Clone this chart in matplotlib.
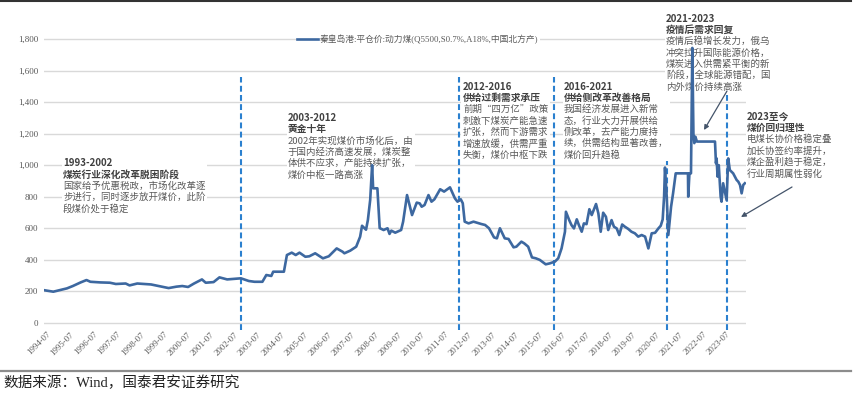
import matplotlib
matplotlib.use('Agg')
import matplotlib.pyplot as plt
from matplotlib.lines import Line2D
from matplotlib.patches import Rectangle
import pandas as pd

plt.rcParams['font.family'] = ['Noto Sans CJK SC', 'DejaVu Sans']

# Data (Qinhuangdao Q5500 thermal coal, RMB/t)
dates = ['1994-06-01', '1994-10-15', '1995-01-15', '1995-05-15', '1995-08-15', '1995-12-15',
         '1996-03-15', '1996-05-15', '1996-10-15', '1997-03-15', '1997-06-15', '1997-11-15',
         '1998-01-15', '1998-05-15', '1998-12-15', '1999-04-15', '1999-09-15', '2000-01-15',
         '2000-04-15', '2000-07-15', '2000-10-15', '2001-02-15', '2001-04-15', '2001-08-15',
         '2001-11-15', '2002-03-15', '2002-10-15', '2003-02-15', '2003-05-15', '2003-09-15',
         '2003-11-15', '2004-02-01', '2004-03-01', '2004-08-15', '2004-10-01', '2004-12-15',
         '2005-02-15', '2005-04-15', '2005-07-15', '2005-09-15', '2005-12-15', '2006-04-15',
         '2006-07-15', '2006-11-15', '2007-02-15', '2007-03-15', '2007-06-15', '2007-09-15',
         '2007-11-15', '2007-12-15', '2008-02-15', '2008-03-15', '2008-04-20', '2008-05-20',
         '2008-06-05', '2008-08-10', '2008-09-15', '2008-11-15', '2009-01-15', '2009-02-15',
         '2009-03-15', '2009-05-15', '2009-08-15', '2009-09-15', '2009-11-15', '2010-02-01',
         '2010-04-15', '2010-06-01', '2010-07-01', '2010-08-15', '2010-10-15', '2010-12-01',
         '2011-01-15', '2011-04-15', '2011-06-15', '2011-09-15', '2011-12-01', '2012-01-10',
         '2012-03-01', '2012-04-01', '2012-05-01', '2012-07-01', '2012-09-15', '2013-01-15',
         '2013-03-15', '2013-05-15', '2013-08-01', '2013-09-15', '2013-11-01', '2014-01-15',
         '2014-03-15', '2014-06-01', '2014-07-15', '2014-10-01', '2014-11-15', '2015-01-15',
         '2015-03-15', '2015-05-15', '2015-07-15', '2015-10-15', '2015-12-18', '2016-03-06',
         '2016-04-27', '2016-06-18', '2016-08-10', '2016-08-25', '2016-10-15', '2016-11-20',
         '2016-12-28', '2017-02-10', '2017-03-15', '2017-04-28', '2017-06-01', '2017-07-12',
         '2017-08-25', '2017-10-01', '2017-12-07', '2018-01-12', '2018-02-18', '2018-03-28',
         '2018-05-10', '2018-06-15', '2018-08-06', '2018-09-12', '2018-10-25', '2018-12-04',
         '2019-01-18', '2019-03-01', '2019-04-22', '2019-06-12', '2019-08-04', '2019-09-25',
         '2019-11-18', '2020-01-10', '2020-03-01', '2020-04-22', '2020-06-13', '2020-08-04',
         '2020-09-10', '2020-10-10', '2020-11-01', '2020-11-15', '2020-12-12', '2021-01-06',
         '2021-02-18', '2021-03-21', '2021-05-01', '2021-11-08', '2021-11-12', '2021-12-01',
         '2021-12-25', '2022-01-15', '2022-02-01', '2022-02-15', '2022-03-03', '2022-03-27',
         '2023-01-03', '2023-01-18', '2023-01-28', '2023-02-12', '2023-03-03', '2023-04-01',
         '2023-04-15', '2023-05-10', '2023-06-06', '2023-07-03', '2023-07-28', '2023-08-22',
         '2023-09-18', '2023-10-13', '2023-11-09', '2023-12-06', '2024-01-01', '2024-01-28',
         '2024-02-22', '2024-03-18', '2024-04-12']
price = [205, 196, 205, 217, 232, 255,
         270, 259, 255, 253, 245, 248,
         236, 248, 242, 232, 219, 228,
         232, 226, 248, 274, 253, 257,
         287, 274, 281, 264, 259, 259,
         302, 296, 323, 323, 429, 444,
         429, 444, 418, 421, 440, 408,
         421, 471, 450, 440, 457, 482,
         545, 615, 590, 651, 779, 1000,
         853, 853, 600, 588, 599, 563,
         584, 571, 588, 641, 810, 683,
         762, 757, 736, 747, 810, 768,
         783, 847, 832, 859, 789, 768,
         783, 758, 641, 630, 641, 626,
         620, 599, 541, 535, 599, 535,
         531, 478, 482, 514, 503, 482,
         414, 408, 398, 370, 376, 387,
         408, 471, 577, 704, 651, 619,
         598, 656, 619, 577, 630, 625,
         720, 683, 753, 694, 577, 698,
         672, 588, 651, 609, 598, 556,
         623, 609, 595, 577, 567, 546,
         556, 546, 471, 567, 570, 598,
         615, 655, 800, 985, 800, 556,
         736, 821, 948, 948, 800, 948,
         948, 1745, 1200, 1140, 1181, 1150,
         1150, 1012, 1043, 927, 1000, 800,
         768, 885, 831, 778, 1043, 969,
         958, 948, 927, 906, 895, 874,
         821, 874, 885]

stage_dates = ['2002-10-16', '2012-02-03', '2016-02-21', '2020-12-18', '2023-07-06']
stage_tops = [1560, 1562, 1562, 1620, 1620]
tick_years = list(range(1994, 2024))
series_name = '秦皇岛港:平仓价:动力煤(Q5500,S0.7%,A18%,中国北方产)'

W, H = 858, 393
fig = plt.figure(figsize=(W / 100, H / 100), dpi=100)
ax = fig.add_axes([44 / W, 1 - 324.9 / H, (746 - 44) / W, (324.9 - 36.9) / H])

x = pd.to_datetime(dates)
ax.plot(x, price, color='#3d68a0', lw=1.9, label=series_name, zorder=3, solid_joinstyle='round')

ax.vlines(pd.to_datetime(stage_dates), -45, stage_tops, colors='#2b80cf', lw=1.5,
          linestyles=(0, (2.8, 1.6)), clip_on=False, zorder=2)

ax.set_ylim(-15, 1815)
ax.set_xlim(pd.Timestamp('1994-05-23'), pd.Timestamp('2024-04-30'))
ax.set_yticks(range(0, 1801, 200))
ax.set_yticklabels([f'{v:,}' for v in range(0, 1801, 200)], family='Liberation Serif',
                   fontsize=6.5, color='#595959')
ax.set_xticks([pd.Timestamp(f'{y}-07-01') for y in tick_years])
ax.set_xticklabels([f'{y}-07' for y in tick_years], family='Liberation Serif', fontsize=6.3,
                   color='#595959', rotation=45, ha='right', va='top', rotation_mode='anchor')
ax.tick_params(length=0, pad=4)
ax.tick_params(axis='y', pad=4)
ax.grid(axis='y', color='#d9d9d9', lw=1.0)
ax.set_axisbelow(True)
for s in ax.spines.values():
    s.set_visible(False)

leg = ax.legend(loc='center', bbox_to_anchor=(418 / W, 1 - 39 / H), bbox_transform=fig.transFigure,
                frameon=True, facecolor='white', edgecolor='none', framealpha=1, fancybox=False,
                handlelength=2.3, borderpad=0.1, handletextpad=0.3,
                prop={'family': ['Liberation Serif', 'Noto Sans CJK SC'], 'size': 6.3})
for t in leg.get_texts():
    t.set_color('#595959')

renderer = fig.canvas.get_renderer()


# text blocks sit on white boxes (they hide grid/dash lines, price line stays on top)
def block(x0, y0, title, sub, lines, step=11.4):
    ys = y0
    texts = []
    texts.append(ax.text(x0 / W, 1 - ys / H, title, fontsize=7, weight='bold', color='#404040',
                         va='center', transform=fig.transFigure, clip_on=False, zorder=2.6))
    ys += step
    texts.append(ax.text(x0 / W, 1 - ys / H, sub, fontsize=7, weight='bold', color='#404040',
                         va='center', transform=fig.transFigure, clip_on=False, zorder=2.6))
    for ln in lines:
        ys += step
        texts.append(ax.text(x0 / W, 1 - ys / H, ln, fontsize=6.8, color='#595959', va='center',
                             transform=fig.transFigure, clip_on=False, zorder=2.6))
    right = max(t.get_window_extent(renderer).x1 for t in texts)
    top = y0 - 6
    bottom = ys + 6
    ax.add_patch(Rectangle(((x0 - 1.5) / W, 1 - bottom / H), (right - x0 + 3) / W,
                           (bottom - top) / H, transform=fig.transFigure, facecolor='white',
                           edgecolor='none', clip_on=False, zorder=2.5))


block(63, 163, '1993-2002', '煤炭行业深化改革脱困阶段',
      ['国家给予优惠税政，市场化改革逐', '步进行，同时逐步放开煤价，此阶', '段煤价处于稳定'])
block(288, 118, '2003-2012', '黄金十年',
      ['2002年实现煤价市场化后，由', '于国内经济高速发展，煤炭整', '体供不应求，产能持续扩张，', '煤价中枢一路高涨'])
block(463, 86.7, '2012-2016', '供给过剩需求承压',
      ['前期“四万亿”政策', '刺激下煤炭产能急速', '扩张，然而下游需求', '增速放缓，供需严重', '失衡，煤价中枢下跌'])
block(564, 86.7, '2016-2021', '供给侧改革改善格局',
      ['我国经济发展进入新常', '态，行业大力开展供给', '侧改革，去产能力度持', '续，供需结构显著改善，', '煤价回升趋稳'])
block(666, 18.5, '2021-2023', '疫情后需求回复',
      ['疫情后稳增长发力，俄乌', '冲突拉升国际能源价格，', '煤炭进入供需紧平衡的新', '阶段，全球能源错配，国', '内外煤价持续高涨'])
block(747, 116.7, '2023至今', '煤价回归理性',
      ['电煤长协价格稳定叠', '加长协签约率提升，', '煤企盈利趋于稳定，', '行业周期属性弱化'])

arrow = dict(arrowstyle='-|>', color='#44546a', lw=0.9, mutation_scale=7, shrinkA=0, shrinkB=0)
ax.annotate('', xy=(704 / W, 1 - 130 / H), xytext=(727 / W, 1 - 91 / H),
            xycoords='figure fraction', textcoords='figure fraction', arrowprops=arrow,
            annotation_clip=False, zorder=4)
ax.annotate('', xy=(741 / W, 1 - 217 / H), xytext=(792 / W, 1 - 187 / H),
            xycoords='figure fraction', textcoords='figure fraction', arrowprops=arrow,
            annotation_clip=False, zorder=4)

fig.add_artist(Line2D([0, 851 / W], [1 - 1.2 / H] * 2, color='#333333', lw=1.5,
                      transform=fig.transFigure))
fig.add_artist(Line2D([0, 851 / W], [1 - 371 / H] * 2, color='#8c8c8c', lw=1.6,
                      transform=fig.transFigure))
fig.text(3 / W, 1 - 383 / H, '数据来源：Wind，国泰君安证券研究', fontsize=10.5, color='#222222',
         va='center', family=['Liberation Serif', 'Noto Sans CJK SC'])

fig.savefig('out.png', dpi=100)
